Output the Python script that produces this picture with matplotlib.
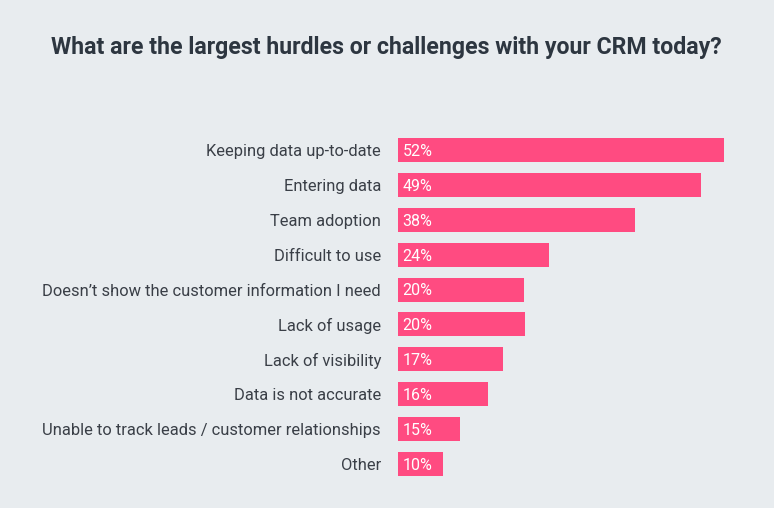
import matplotlib
matplotlib.use("Agg")
import matplotlib.pyplot as plt

title = "What are the largest hurdles or challenges with your CRM today?"
categories = [
    "Keeping data up-to-date",
    "Entering data",
    "Team adoption",
    "Difficult to use",
    "Doesn\u2019t show the customer information I need",
    "Lack of usage",
    "Lack of visibility",
    "Data is not accurate",
    "Unable to track leads / customer relationships",
    "Other",
]
bar_values = [52, 48.3, 37.8, 24.1, 20.1, 20.3, 16.8, 14.4, 10.0, 7.2]
pct_labels = ["52%", "49%", "38%", "24%", "20%", "20%", "17%", "16%", "15%", "10%"]

BG = "#E8ECEF"
PINK = "#FF4B81"
TXT = "#3A3F47"

W, H = 774, 508
fig = plt.figure(figsize=(W / 100, H / 100), dpi=100, facecolor=BG)

left_px = 397.5
scale = 326.5 / 52.0
xmax = 60
top_px = 150 - 34.9 / 2
bot_px = 464 + 34.9 / 2
ax = fig.add_axes([left_px / W, 1 - bot_px / H, xmax * scale / W, (bot_px - top_px) / H])
ax.set_facecolor(BG)

y = list(range(len(categories)))
ax.barh(y, bar_values, height=0.69, color=PINK, left=0)
ax.set_xlim(0, xmax)
ax.set_ylim(len(categories) - 0.5, -0.5)
for s in ax.spines.values():
    s.set_visible(False)
ax.set_xticks([])
ax.set_yticks(y)
ax.set_yticklabels(categories, fontsize=11.9, color=TXT, family=["Roboto", "DejaVu Sans"])
ax.tick_params(axis="y", length=0, pad=11.9)

for yi, lab in zip(y, pct_labels):
    ax.text(0.8, yi + 0.04, lab, va="center", ha="left", color="white", fontsize=11.5,
            family=["Roboto", "DejaVu Sans"])

fig.text(386 / W, 1 - 47 / H, title, ha="center", va="center", fontsize=16.7,
         color="#2D3640", fontweight="bold", family=["Roboto", "DejaVu Sans"])

fig.savefig("out.png", dpi=100, facecolor=BG)
